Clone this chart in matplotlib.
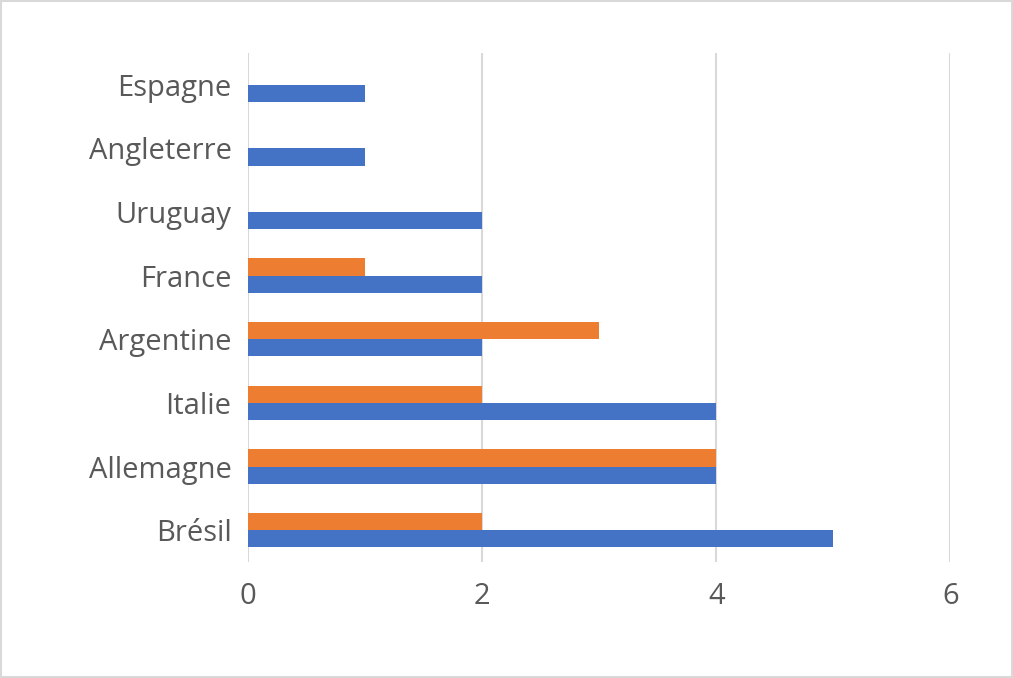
import matplotlib
matplotlib.use("Agg")
import matplotlib.pyplot as plt
import numpy as np

categories = ["Brésil", "Allemagne", "Italie", "Argentine", "France", "Uruguay", "Angleterre", "Espagne"]
blue_values = [5, 4, 4, 2, 2, 2, 1, 1]
orange_values = [2, 4, 2, 3, 1, 0, 0, 0]
xticks = [0, 2, 4, 6]

fig = plt.figure(figsize=(10.13, 6.78), dpi=100)
ax = fig.add_axes([0.245, 0.171, 0.693, 0.751])
y = np.arange(len(categories))
h = 0.27
ax.barh(y - h/2, blue_values, height=h, color="#4472C4", zorder=3)
ax.barh(y + h/2, orange_values, height=h, color="#ED7D31", zorder=3)
ax.set_xlim(0, 6)
ax.set_ylim(-0.5, len(categories) - 0.5)
ax.set_xticks(xticks)
ax.set_yticks(y)
ax.set_yticklabels(categories)
ax.grid(axis="x", color="#D9D9D9", linewidth=1.5, zorder=0)
for s in ax.spines.values():
    s.set_visible(False)
ax.tick_params(length=0, labelsize=21, colors="#595959", pad=12)
ax.tick_params(axis="x", pad=14)
for lab in ax.get_xticklabels() + ax.get_yticklabels():
    lab.set_fontfamily("Open Sans")
fig.patches.append(plt.Rectangle((0.001, 0.001), 0.998, 0.997, transform=fig.transFigure,
                                 fill=False, edgecolor="#D9D9D9", linewidth=1.5))
fig.savefig("out.png", dpi=100)
